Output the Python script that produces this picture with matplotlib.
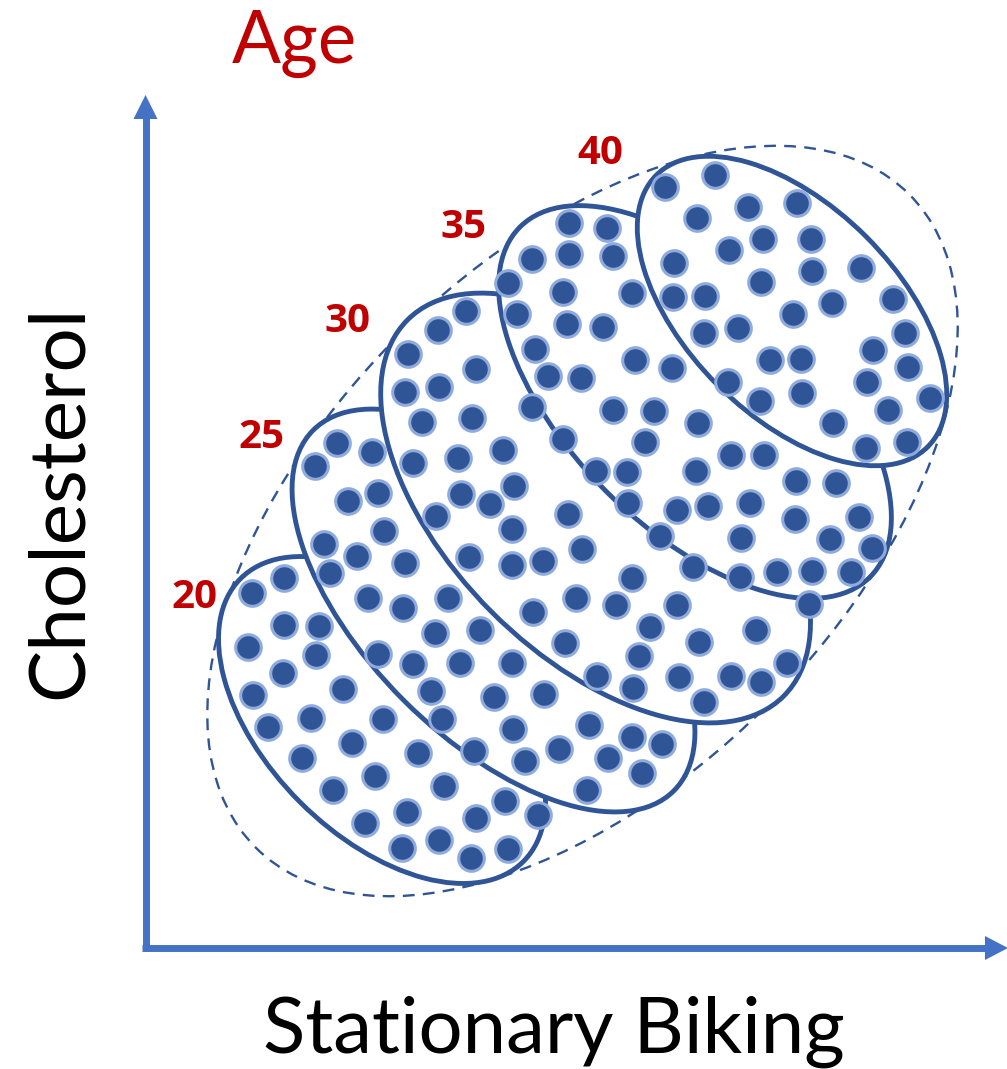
import matplotlib
matplotlib.use("Agg")
import matplotlib.pyplot as plt
from matplotlib.patches import Ellipse, Polygon

# ---------------- data ----------------
age_labels = ["20", "25", "30", "35", "40"]
x_label = "Stationary Biking"
y_label = "Cholesterol"
group_label = "Age"

dot_x = [665, 715, 697, 748, 797, 569, 607, 532, 569, 613,
         674, 729, 763, 811, 861, 812, 761, 508, 563, 632,
         673, 705, 832, 893, 466, 517, 567, 603, 793, 738,
         704, 905, 438, 535, 873, 635, 672, 770, 801, 908,
         408, 476, 548, 581, 728, 867, 439, 405, 532, 613,
         654, 802, 760, 930, 888, 833, 907, 866, 698, 731,
         764, 696, 796, 836, 750, 708, 795, 859, 741, 830,
         872, 693, 740, 777, 812, 851, 809, 756, 699, 787,
         731, 761, 704, 679,
         472, 563, 645, 503, 458, 596, 627, 514, 461, 628,
         677, 490, 568, 512, 660, 582, 469, 512, 543, 632,
         448, 576, 616, 677, 533, 650, 480, 565, 639,
         422, 337, 372, 315, 413, 348, 378, 436, 384, 324,
         357, 405, 330, 284, 252, 368, 403, 284, 319, 435,
         248, 316, 378,
         413, 460, 283, 253, 343, 431, 383, 442, 268, 311,
         352, 418, 302, 375, 444, 333, 407, 365, 439, 402, 471,
         512, 494, 544, 597, 633, 513, 589, 632, 662, 474,
         525, 559, 608, 642, 587, 505, 476, 538, 508]
dot_y = [187, 175, 218, 207, 203, 223, 228, 259, 254, 256,
         263, 250, 239, 239, 268, 271, 282, 283, 292, 293,
         297, 296, 303, 299, 311, 314, 324, 327, 314, 328,
         333, 333, 330, 349, 350, 360, 368, 360, 359, 367,
         354, 369, 376, 378, 382, 382, 387, 392, 407, 410,
         411, 393, 401, 398, 410, 423, 442, 448, 423, 455,
         455, 471, 481, 483, 503, 506, 519, 517, 538, 539,
         548, 567, 577, 572, 571, 572, 604, 630, 642, 663,
         676, 682, 702, 677,
         418, 439, 442, 450, 458, 471, 472, 486, 494, 503,
         510, 504, 514, 529, 536, 549, 557, 565, 561, 578,
         598, 598, 605, 605, 612, 627, 630, 643, 656,
         422, 443, 452, 466, 463, 501, 493, 516, 531, 544,
         556, 563, 573, 578, 593, 598, 608, 625, 626, 633,
         647, 655, 654,
         664, 663, 673, 695, 689, 691, 719, 719, 727, 718,
         743, 753, 758, 776, 786, 790, 812, 823, 840, 848, 858,
         663, 697, 694, 676, 688, 729, 725, 737, 744, 751,
         761, 749, 758, 773, 790, 801, 818, 815, 849]

# ---------------- layout (pixel space) ----------------
W, H = 1007, 1069
fig = plt.figure(figsize=(W / 100, H / 100), dpi=100)
ax = fig.add_axes([0, 0, 1, 1])
ax.set_xlim(0, W)
ax.set_ylim(H, 0)
ax.axis("off")

DARK = "#2F5597"
LIGHT = "#8FAADC"
AXIS = "#4472C4"
RED = "#C00000"

# outer dashed envelope
ax.add_patch(Ellipse((582.5, 521), 2 * 462, 2 * 261, angle=-45, fill=False,
                     edgecolor=DARK, lw=1.7, ls=(0, (5, 3.5)), zorder=1))

# age-group ellipses (drawn from youngest to oldest, each on top)
ell_geom = [((382, 720), 200, 116),
            ((493.5, 610.5), 255, 127),
            ((595.6, 508), 266, 147),
            ((695, 402), 247.5, 126),
            ((792, 311), 192, 105)]
for i, ((cx, cy), a, b) in enumerate(ell_geom):
    ax.add_patch(Ellipse((cx, cy), 2 * a, 2 * b, angle=45, facecolor="white",
                         edgecolor=DARK, lw=3.5, zorder=2 + i))

# points
ax.scatter(dot_x, dot_y, s=340, c=DARK, edgecolors=LIGHT, linewidths=2.2, zorder=20)

# axes arrows
lw_ax = 5.0
ax.plot([145.5, 145.5], [951, 112], color=AXIS, lw=lw_ax, solid_capstyle="butt", zorder=1)
ax.plot([142, 990], [948, 948], color=AXIS, lw=lw_ax, solid_capstyle="butt", zorder=1)
ax.add_patch(Polygon([(133.5, 119), (157.5, 119), (145.5, 95)], closed=True,
                     facecolor=AXIS, edgecolor="none", zorder=1))
ax.add_patch(Polygon([(985, 936), (985, 960), (1008, 948)], closed=True,
                     facecolor=AXIS, edgecolor="none", zorder=1))

renderer = fig.canvas.get_renderer()


def fit_text(x, y, s, width, rotation=0, **kw):
    t = ax.text(x, y, s, fontsize=40, **kw)
    bb = t.get_window_extent(renderer)
    t.set_fontsize(40 * width / bb.width)
    if rotation:
        t.set_rotation(rotation)
    return t


FONT = ["Lato", "DejaVu Sans"]
BOLD_FONT = ["Open Sans", "DejaVu Sans"]

fit_text(294.5, 63, group_label, 125, color=RED, family=FONT,
         ha="center", va="baseline", zorder=30)
fit_text(554, 1053, x_label, 582, color="black", family=FONT,
         ha="center", va="baseline", zorder=30)
fit_text(82, 502, y_label, 395, rotation=90, color="black", family=FONT,
         ha="center", va="baseline", rotation_mode="anchor", zorder=30)

label_pos = [(194, 598), (262, 438), (348, 321), (464, 228), (600, 154)]
for lab, (lx, ly) in zip(age_labels, label_pos):
    fit_text(lx, ly, lab, 46, color=RED, family=BOLD_FONT, fontweight="bold",
             ha="center", va="center", zorder=30)

fig.savefig("out.png", dpi=100, facecolor="white")
